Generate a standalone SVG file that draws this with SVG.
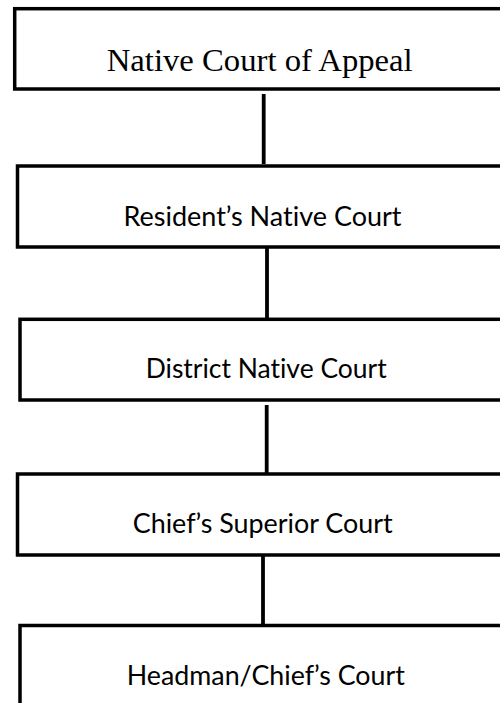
<svg xmlns="http://www.w3.org/2000/svg" width="500" height="703" viewBox="0 0 500 703">
<style>
.box{fill:#fff;stroke:#000;stroke-width:3.5}
.conn{stroke:#000;stroke-width:3.8;fill:none}
.serif{font-family:"Liberation Serif","Times New Roman",serif;font-size:32px;fill:#000}
.sans{font-family:Lato,"Liberation Sans",Arial,sans-serif;font-size:26px;fill:#000;font-variant-ligatures:none}
</style>
<rect width="500" height="703" fill="#fff"/>
<g id="connectors">
<line class="conn" x1="263.7" y1="94" x2="263.7" y2="164"/>
<line class="conn" x1="267" y1="248" x2="267" y2="318"/>
<line class="conn" x1="266.7" y1="405" x2="266.7" y2="473"/>
<line class="conn" x1="263" y1="556" x2="263" y2="624"/>
</g>
<g id="node1">
<rect class="box" x="14.7" y="8.7" width="500" height="80.3"/>
<text class="serif" x="259.7" y="70.5" text-anchor="middle" textLength="306" lengthAdjust="spacingAndGlyphs">Native Court of Appeal</text>
</g>
<g id="node2">
<rect class="box" x="17.5" y="166" width="500" height="81"/>
<text class="sans" x="262.5" y="226" text-anchor="middle" textLength="278" lengthAdjust="spacingAndGlyphs">Resident’s Native Court</text>
</g>
<g id="node3">
<rect class="box" x="20" y="319.3" width="500" height="80.7"/>
<text class="sans" x="266.2" y="377.7" text-anchor="middle" textLength="241" lengthAdjust="spacingAndGlyphs">District Native Court</text>
</g>
<g id="node4">
<rect class="box" x="17.5" y="474" width="500" height="81"/>
<text class="sans" x="262.7" y="533.3" text-anchor="middle" textLength="260" lengthAdjust="spacingAndGlyphs">Chief’s Superior Court</text>
</g>
<g id="node5">
<rect class="box" x="20" y="625.5" width="500" height="100"/>
<text class="sans" x="265.8" y="685" text-anchor="middle" textLength="278" lengthAdjust="spacingAndGlyphs">Headman/Chief’s Court</text>
</g>
</svg>
